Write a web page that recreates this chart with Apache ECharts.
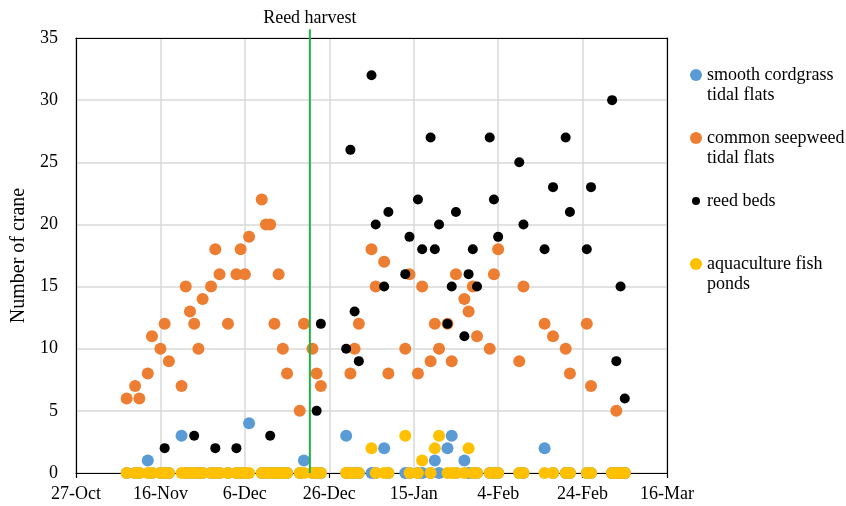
<!DOCTYPE html>
<html>
<head>
<meta charset="utf-8">
<script src="https://cdn.jsdelivr.net/npm/echarts@6/dist/echarts.min.js"></script>
<style>html,body{margin:0;padding:0;background:#fff}#c{width:846px;height:506px}</style>
</head>
<body>
<div id="c"></div>
<script>
// Day offsets from 27-Oct for each survey
const surveyDays = [12,14,15,17,18,20,21,22,25,26,27,28,29,30,32,33,34,36,38,39,40,41,44,45,46,47,48,49,50,53,54,56,57,58,64,65,66,67,70,71,73,74,78,79,81,82,84,85,86,88,89,90,92,93,94,95,98,99,100,105,106,111,113,116,117,121,122,127,128,129,130];
const cordgrass = [0,0,0,1,0,0,0,0,3,0,0,0,0,0,0,0,0,0,0,0,0,4,0,0,0,0,0,0,0,0,1,0,0,0,3,0,0,0,0,0,2,0,0,0,0,0,0,1,0,2,3,0,1,0,0,0,0,0,0,0,0,2,0,0,0,0,0,0,0,0,0];
const seepweed  = [6,7,6,8,11,10,12,9,7,15,13,12,10,14,15,18,16,12,16,18,16,19,22,20,20,12,16,10,8,5,12,10,8,7,0,8,10,12,18,15,17,8,10,16,8,15,9,12,10,12,9,16,14,13,15,11,10,16,18,9,15,12,11,10,8,12,7,0,5,0,0];
const reedBeds  = [0,0,0,0,0,0,2,0,0,0,0,3,0,0,0,2,0,0,2,0,0,0,0,0,3,0,0,0,0,0,0,0,5,12,10,26,13,9,32,20,15,21,16,19,22,18,27,18,20,12,15,21,11,16,18,15,27,22,19,25,20,18,23,27,21,18,23,30,9,15,6];
const fishPonds = [0,0,0,0,0,0,0,0,0,0,0,0,0,0,0,0,0,0,0,0,0,0,0,0,0,0,0,0,0,0,0,0,0,0,0,0,0,0,2,0,0,0,3,0,0,1,0,2,3,0,0,0,0,2,0,0,0,0,0,0,0,0,0,0,0,0,0,0,0,0,0];
const tickLabels = ['27-Oct','16-Nov','6-Dec','26-Dec','15-Jan','4-Feb','24-Feb','16-Mar'];
const seriesNames = ['smooth cordgrass tidal flats','common seepweed tidal flats','reed beds','aquaculture fish ponds'];
const legendLabels = ['\nsmooth cordgrass\ntidal flats','\ncommon seepweed\ntidal flats','\nreed beds\n','\naquaculture fish\nponds'];
const harvestDay = 55.4;
const harvestLabel = 'Reed harvest';

const FONT = 'Liberation Serif';
const colors = ['#5B9BD5','#ED7D31','#000000','#FFC000'];
const sizes = [12,12,10,12];
const values = [cordgrass, seepweed, reedBeds, fishPonds];

const chart = echarts.init(document.getElementById('c'), null, {renderer:'canvas'});
const scatterSeries = seriesNames.map((n,k)=>({
  name: n, type: 'scatter', symbol: 'circle', symbolSize: sizes[k],
  itemStyle: {color: colors[k], opacity: 1},
  data: surveyDays.map((d,i)=>[d, values[k][i]]),
  z: 2 + k
}));
scatterSeries.push({
  name: 'harvest', type: 'line', clip: false, showSymbol: false, symbol: 'none', silent: true,
  lineStyle: {color: '#1DB446', width: 2}, z: 10,
  data: [[harvestDay, 0], [harvestDay, 35.7]],
  markPoint: {
    symbol: 'circle', symbolSize: 0, silent: true,
    label: {show: true, position: 'top', distance: 11, formatter: harvestLabel,
      fontFamily: FONT, fontSize: 18, color: '#000'},
    data: [{coord: [harvestDay, 35]}]
  }
});

const frameAxis = {
  axisLine: {show: true, onZero: false, lineStyle: {color: '#000', width: 1.2}},
  axisTick: {show: false}, axisLabel: {show: false}, splitLine: {show: false}
};

chart.setOption({
  animation: false,
  backgroundColor: '#fff',
  grid: {left: 76, top: 38, right: 179, bottom: 33},
  xAxis: [{
    type: 'value', min: 0, max: 140, interval: 20,
    axisLine: {show: true, onZero: false, lineStyle: {color: '#000', width: 1.2}},
    axisTick: {show: true, inside: false, length: 5, lineStyle: {color: '#000', width: 1.2}},
    splitLine: {show: true, lineStyle: {color: '#d9d9d9', width: 1.5}},
    axisLabel: {margin: 12, fontFamily: FONT, fontSize: 18, color: '#000',
      formatter: v => tickLabels[Math.round(v/20)] || ''}
  }, Object.assign({type: 'value', position: 'top', min: 0, max: 140}, frameAxis)],
  yAxis: [{
    type: 'value', min: 0, max: 35, interval: 5,
    name: 'Number of crane', nameLocation: 'middle', nameGap: 43,
    nameTextStyle: {fontFamily: FONT, fontSize: 20, color: '#000'},
    axisLine: {show: true, lineStyle: {color: '#000', width: 1.2}},
    axisTick: {show: false},
    splitLine: {show: true, lineStyle: {color: '#d9d9d9', width: 1.5}},
    axisLabel: {margin: 18, fontFamily: FONT, fontSize: 18, color: '#000'}
  }, Object.assign({type: 'value', position: 'right', min: 0, max: 35}, frameAxis)],
  legend: {
    orient: 'vertical', left: 683, top: 40, itemWidth: 12, itemHeight: 12, itemGap: 3,
    icon: 'circle',
    textStyle: {fontFamily: FONT, fontSize: 18, lineHeight: 20, color: '#000',
      backgroundColor: 'rgba(255,255,255,0)'},
    formatter: name => legendLabels[seriesNames.indexOf(name)],
    data: [
      {name: seriesNames[0]},
      {name: seriesNames[1]},
      {name: seriesNames[2], itemStyle: {borderColor: '#fff', borderWidth: 4}},
      {name: seriesNames[3]}
    ]
  },
  series: scatterSeries
});
</script>
</body>
</html>
